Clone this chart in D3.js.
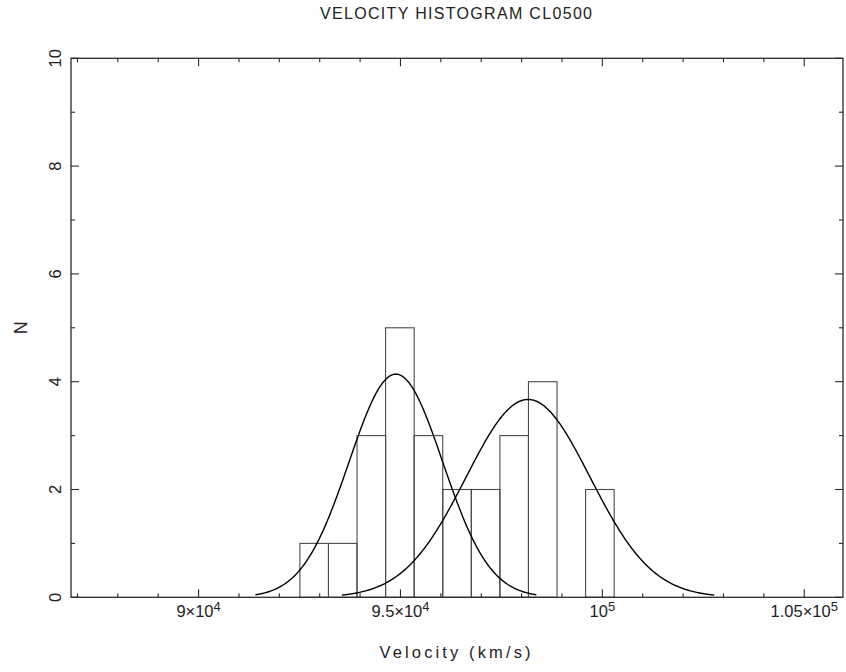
<!DOCTYPE html>
<html>
<head>
<meta charset="utf-8">
<script src="https://cdn.jsdelivr.net/npm/d3@7"></script>
<style>
  html, body { margin: 0; padding: 0; background: #fff; }
  svg { display: block; }
  text { font-family: "Liberation Sans", Arial, sans-serif; fill: #222; }
</style>
</head>
<body>
<svg id="chart" width="846" height="672"></svg>
<script>
// ---- data ----
const binStart = 92509;          // km/s, left edge of first bin
const binWidth = 707.6;          // km/s
const binCounts = [1, 1, 3, 5, 3, 2, 2, 3, 4, 0, 2];

// Gaussian fits: mean, sigma, peak amplitude (N)
const fitMeans  = [94886, 98160];
const fitSigmas = [1160, 1537];
const fitAmps   = [4.14, 3.67];

const xMajorTicks = [90000, 95000, 100000, 105000];
const xTickMantissa = ["9", "9.5", "", "1.05"];
const xTickExp = ["4", "4", "5", "5"];
const yMajorTicks = [0, 2, 4, 6, 8, 10];

const titleText = "VELOCITY HISTOGRAM CL0500";
const xLabelText = "Velocity (km/s)";
const yLabelText = "N";

// ---- layout ----
const svg = d3.select("#chart");
const L = 71, R = 843, T = 58.3, B = 597.3;
const x = d3.scaleLinear().domain([86840, 105960]).range([L, R]);
const y = d3.scaleLinear().domain([0, 10]).range([B, T]);

const frameColor = "#2a2a2a";
const barColor = "#4a4a4a";

// histogram bars
const bins = binCounts.map((c, i) => ({ x0: binStart + i * binWidth, x1: binStart + (i + 1) * binWidth, n: c }));
svg.append("g").selectAll("rect").data(bins.filter(d => d.n > 0)).join("rect")
  .attr("x", d => x(d.x0))
  .attr("width", d => x(d.x1) - x(d.x0))
  .attr("y", d => y(d.n))
  .attr("height", d => y(0) - y(d.n))
  .attr("fill", "none")
  .attr("stroke", barColor)
  .attr("stroke-width", 1.1);

// gaussian curves
const line = d3.line().x(d => x(d[0])).y(d => y(d[1]));
fitMeans.forEach((m, i) => {
  const s = fitSigmas[i], a = fitAmps[i];
  const pts = d3.range(m - 3 * s, m + 3 * s + 1, s / 60).map(v => [v, a * Math.exp(-0.5 * ((v - m) / s) ** 2)]);
  svg.append("path").attr("d", line(pts))
    .attr("fill", "none").attr("stroke", "#000").attr("stroke-width", 1.4);
});

// frame
svg.append("rect").attr("x", L).attr("y", T).attr("width", R - L).attr("height", B - T)
  .attr("fill", "none").attr("stroke", frameColor).attr("stroke-width", 1.3);

// ticks (inward, all four sides)
const ticks = svg.append("g").attr("stroke", frameColor).attr("stroke-width", 1.1);
const xMinor = d3.range(87000, 106000, 1000);
xMinor.forEach(v => {
  const len = xMajorTicks.includes(v) ? 8 : 4;
  ticks.append("line").attr("x1", x(v)).attr("x2", x(v)).attr("y1", B).attr("y2", B - len);
  ticks.append("line").attr("x1", x(v)).attr("x2", x(v)).attr("y1", T).attr("y2", T + len);
});
d3.range(0, 11, 1).forEach(v => {
  const len = yMajorTicks.includes(v) ? 8 : 4;
  ticks.append("line").attr("y1", y(v)).attr("y2", y(v)).attr("x1", L).attr("x2", L + len);
  ticks.append("line").attr("y1", y(v)).attr("y2", y(v)).attr("x1", R).attr("x2", R - len);
});

// x tick labels
xMajorTicks.forEach((v, i) => {
  const t = svg.append("text").attr("x", x(v)).attr("y", 617)
    .attr("text-anchor", "middle").attr("font-size", 16.5);
  const base = xTickMantissa[i] ? xTickMantissa[i] + "×10" : "10";
  t.append("tspan").text(base);
  t.append("tspan").attr("dy", -6).attr("font-size", 13).text(xTickExp[i]);
});

// y tick labels (rotated)
yMajorTicks.forEach(v => {
  svg.append("text")
    .attr("transform", `translate(61,${y(v)}) rotate(-90)`)
    .attr("text-anchor", "middle").attr("font-size", 16.5)
    .text(v);
});

// title and axis labels
svg.append("text").attr("x", 456).attr("y", 19).attr("text-anchor", "middle")
  .attr("font-size", 16).attr("textLength", 272).attr("lengthAdjust", "spacing").text(titleText);
svg.append("text").attr("x", 455).attr("y", 658)
  .attr("text-anchor", "middle").attr("font-size", 16.5)
  .attr("textLength", 151).attr("lengthAdjust", "spacing").text(xLabelText);
svg.append("text").attr("transform", `translate(27,${(T + B) / 2}) rotate(-90)`)
  .attr("text-anchor", "middle").attr("font-size", 18).text(yLabelText);
</script>
</body>
</html>
